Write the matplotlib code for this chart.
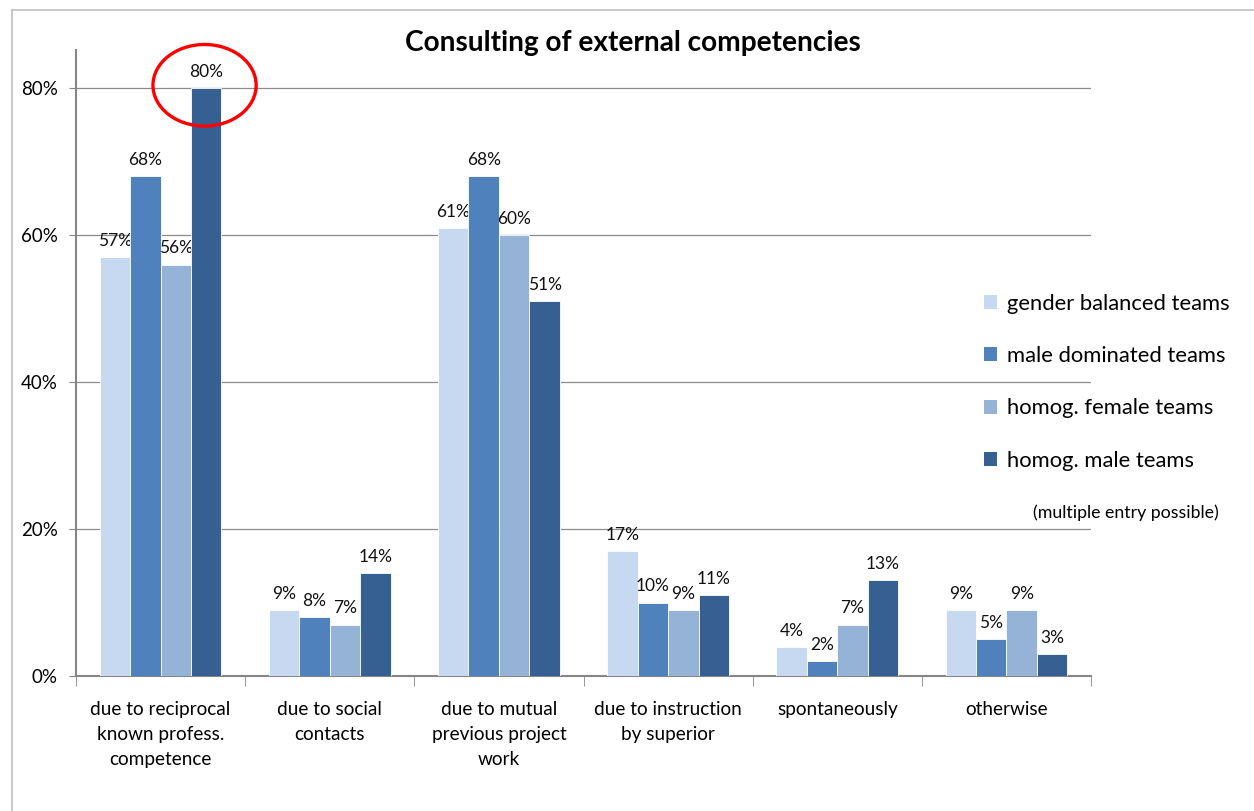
import numpy as np
import matplotlib
matplotlib.use("Agg")
import matplotlib.pyplot as plt
from matplotlib.patches import Ellipse, Patch
from matplotlib.lines import Line2D

plt.rcParams['font.family'] = ['Lato', 'DejaVu Sans']

# Data
categories = ["due to reciprocal\nknown profess.\ncompetence", "due to social\ncontacts",
              "due to mutual\nprevious project\nwork", "due to instruction\nby superior",
              "spontaneously", "otherwise"]
series_names = ["gender balanced teams", "male dominated teams",
                "homog. female teams", "homog. male teams"]
gender_balanced = [57, 9, 61, 17, 4, 9]
male_dominated = [68, 8, 68, 10, 2, 5]
homog_female = [56, 7, 60, 9, 7, 9]
homog_male = [80, 14, 51, 11, 13, 3]
colors = ["#C6D9F1", "#4F81BD", "#95B3D7", "#376092"]

series = [gender_balanced, male_dominated, homog_female, homog_male]

fig = plt.figure(figsize=(12.54, 8.11), dpi=100)
ax = fig.add_axes([76/1254, 1 - 676/811, (1091-76)/1254, (676-50)/811])

x = np.arange(len(categories))
w = 0.18
for i, vals in enumerate(series):
    pos = x + (i - 1.5) * w
    ax.bar(pos, vals, width=w, color=colors[i], edgecolor="white", linewidth=0.6, zorder=3)
    for p, v in zip(pos, vals):
        ax.text(p, v + 1.1, f"{v}%", ha="center", va="bottom", fontsize=12.5, color="#111111")

ax.set_xlim(-0.5, len(categories) - 0.5)
ax.set_ylim(0, 85.2)
ax.set_yticks([0, 20, 40, 60, 80])
ax.set_yticklabels(["0%", "20%", "40%", "60%", "80%"], fontsize=13.5)
ax.yaxis.grid(True, color="#8C8C8C", linewidth=0.9, zorder=0)
ax.set_axisbelow(True)

ax.set_xticks(x)
ax.set_xticklabels(categories, fontsize=13.7, linespacing=1.56)
ax.tick_params(axis="x", length=0, pad=18)
ax.set_xticks(np.arange(-0.5, len(categories)), minor=True)
ax.tick_params(axis="x", which="minor", length=7, color="#868686")
ax.tick_params(axis="y", length=5, color="#868686", pad=8)

for s in ["top", "right"]:
    ax.spines[s].set_visible(False)
for s in ["left", "bottom"]:
    ax.spines[s].set_color("#868686")
    ax.spines[s].set_linewidth(1.5)

# red circle around the 80% bar
ell = Ellipse((1.5 * w - 0.01, 80.4), width=0.61, height=11.1, fill=False,
              edgecolor="#FF0000", linewidth=2.4, clip_on=False, zorder=5)
ax.add_patch(ell)

fig.text(633/1254, 1 - 43/811, "Consulting of external competencies", ha="center",
         va="center", fontsize=20.2, fontweight="bold")

handles = [Patch(facecolor=c, edgecolor="none") for c in colors]
fig.legend(handles, series_names, loc="upper left", bbox_to_anchor=(975/1254, 1 - 285/811),
           frameon=False, fontsize=15.8, handlelength=0.6, handleheight=0.6,
           handletextpad=0.45, labelspacing=1.47, borderaxespad=0)
fig.text(1219/1254, 1 - 513/811, "(multiple entry possible)", ha="right", va="center", fontsize=12.8)

# outer frame (top and left)
fig.add_artist(Line2D([12/1254, 1], [1 - 10/811, 1 - 10/811], color="#BFBFBF", linewidth=1.2))
fig.add_artist(Line2D([12/1254, 12/1254], [0, 1 - 10/811], color="#BFBFBF", linewidth=1.2))

fig.savefig("out.png", dpi=100)
